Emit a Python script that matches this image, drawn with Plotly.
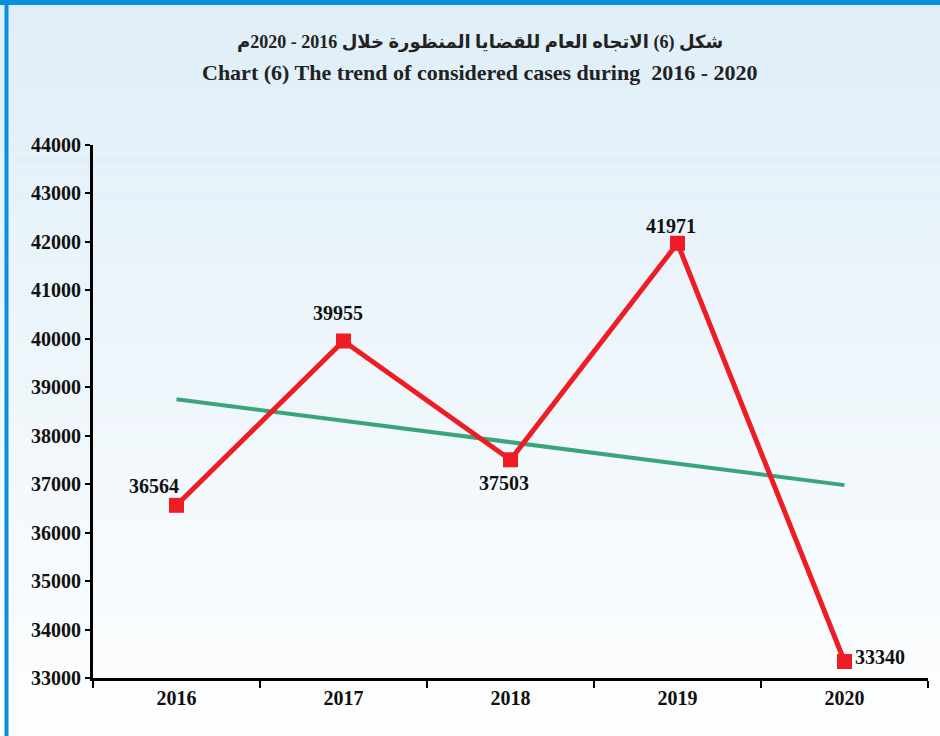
import numpy as np
import plotly.graph_objects as go

years = ["2016", "2017", "2018", "2019", "2020"]
cases = [36564, 39955, 37503, 41971, 33340]
y_ticks = [33000, 34000, 35000, 36000, 37000, 38000, 39000, 40000, 41000, 42000, 43000, 44000]
label_dx = [-23, -6, -7, -7, 35]
label_dy = [19, 28, -23, 17, 5]

title_ar = "شكل (6) الاتجاه العام للقضايا المنظورة خلال 2016 - 2020م"
title_en = "Chart (6) The trend of considered cases during  2016 - 2020"

# linear trend line (least squares fit of the series)
idx = np.arange(len(cases))
slope, intercept = np.polyfit(idx, cases, 1)
trend = list(slope * idx + intercept)

FONT = "Liberation Serif, Times New Roman, DejaVu Serif, serif"
RED = "#EE1D25"
GREEN = "#3AA57B"
BLUE = "#0B8FD8"

fig = go.Figure()
fig.add_trace(go.Scatter(
    x=years, y=trend, mode="lines",
    line=dict(color=GREEN, width=4), hoverinfo="skip", showlegend=False,
))
fig.add_trace(go.Scatter(
    x=years, y=cases, mode="lines+markers",
    line=dict(color=RED, width=5),
    marker=dict(symbol="square", size=15, color=RED),
    showlegend=False,
))

annotations = []
for i, (v, dx, dy) in enumerate(zip(cases, label_dx, label_dy)):
    annotations.append(dict(
        x=i, y=v, xref="x", yref="y", text="<b>%d</b>" % v, showarrow=False,
        xshift=dx, yshift=dy, xanchor="center", yanchor="middle",
        font=dict(family=FONT, size=20, color="#111111"),
    ))
annotations += [
    dict(text="<b>" + title_ar + "</b>", xref="paper", yref="paper", x=0.4635, y=1.1932,
         xanchor="center", yanchor="middle", showarrow=False,
         font=dict(family="Liberation Serif, DejaVu Sans", size=18, color="#222222")),
    dict(text="<b>" + title_en + "</b>", xref="paper", yref="paper", x=0.4635, y=1.1351,
         xanchor="center", yanchor="middle", showarrow=False,
         font=dict(family=FONT, size=22, color="#222222")),
]

# background gradient (light blue top -> white bottom)
shapes = []
n = 60
c0 = np.array([0xDE, 0xEE, 0xF8])
c1 = np.array([0xFF, 0xFF, 0xFF])
for i in range(n):
    t = i / (n - 1)
    c = (c0 * (1 - t) + c1 * t).astype(int)
    shapes.append(dict(type="rect", xref="paper", yref="paper", layer="below",
                       x0=-0.2, x1=1.2, y0=1.3 - (i + 1) * 1.45 / n, y1=1.3 - i * 1.45 / n,
                       fillcolor="rgb(%d,%d,%d)" % tuple(c), line=dict(width=0)))
# frame borders (top and left)
shapes.append(dict(type="rect", xref="paper", yref="paper", x0=-0.2, x1=1.2,
                   y0=1.2627, y1=1.31, fillcolor=BLUE, line=dict(width=0), layer="above"))
shapes.append(dict(type="rect", xref="paper", yref="paper", x0=-0.1060, x1=-0.1012,
                   y0=-0.2, y1=1.27, fillcolor=BLUE, line=dict(width=0), layer="above"))

fig.update_layout(
    width=940, height=736,
    margin=dict(l=93, r=12, t=145, b=58),
    paper_bgcolor="white", plot_bgcolor="rgba(0,0,0,0)",
    shapes=shapes, annotations=annotations,
    font=dict(family=FONT, color="#111111"),
)
fig.update_xaxes(
    type="category", range=[-0.5, 4.5], tickson="boundaries",
    showline=True, linecolor="black", linewidth=3,
    ticks="outside", ticklen=7, tickwidth=2, tickcolor="black",
    showgrid=False, zeroline=False,
    tickfont=dict(family=FONT, size=20, color="#111111", weight="bold"),
)
fig.update_yaxes(
    range=[33000, 44000], tickvals=y_ticks, ticktext=[str(v) for v in y_ticks],
    showline=True, linecolor="black", linewidth=3,
    ticks="outside", ticklen=5, tickwidth=2, tickcolor="black",
    showgrid=False, zeroline=False,
    tickfont=dict(family=FONT, size=20, color="#111111", weight="bold"),
)
fig.write_html("out.html", config={"displayModeBar": False},
               post_script="document.body.style.margin='0';")
